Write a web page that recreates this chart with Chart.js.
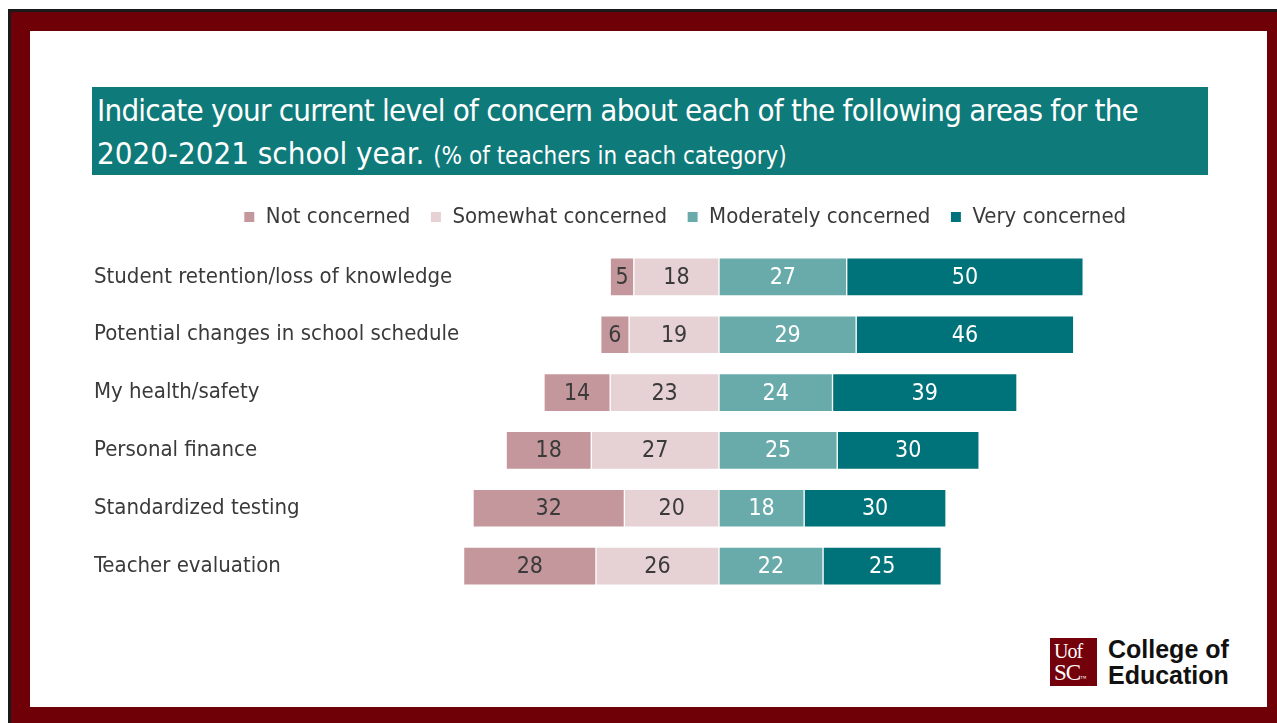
<!DOCTYPE html>
<html>
<head>
<meta charset="utf-8">
<script src="https://cdn.jsdelivr.net/npm/chart.js@4.4.0/dist/chart.umd.min.js"></script>
<style>
  html, body { margin: 0; padding: 0; width: 1277px; height: 723px; overflow: hidden; background: #fff; }
  .frame { position: absolute; left: 8px; top: 9px; width: 1269px; height: 714px; background: #700008;
           border-left: 3px solid #1a1a1a; border-top: 3px solid #1a1a1a; box-sizing: border-box; }
  .panel { position: absolute; left: 30px; top: 31px; width: 1237px; height: 676px; background: #fff; }
  .title { position: absolute; left: 92px; top: 87px; width: 1116px; height: 88px; background: #0f7a7a;
           color: #fff; font-family: "Liberation Sans Narrow", "DejaVu Sans Condensed", sans-serif;
           font-size: 31px; line-height: 43px; padding: 2px 0 0 5px; box-sizing: border-box; white-space: nowrap; }
  .title .first { letter-spacing: -0.75px; }
  .title small { font-size: 24px; }
  .chart-wrap { position: absolute; left: 84px; top: 186px; width: 1192px; height: 409px; }
  .logo { position: absolute; left: 1050px; top: 638px; width: 47px; height: 48px; background: #73000a;
          color: #fff; font-family: "Liberation Serif", serif; line-height: 21px; padding: 3px 0 0 4px; box-sizing: border-box; }
  .logo .u { font-size: 20px; letter-spacing: -1px; }
  .logo .sc { font-size: 23px; letter-spacing: -1px; }
  .college { position: absolute; left: 1108px; top: 636px; font-family: "Liberation Sans", Arial, sans-serif;
             font-weight: bold; font-size: 25px; line-height: 26px; color: #111; }
</style>
</head>
<body>
<div class="frame"></div>
<div class="panel"></div>
<div class="title"><span class="first">Indicate your current level of concern about each of the following areas for the</span><br>2020-2021 school year. <small>(% of teachers in each category)</small></div>
<div class="chart-wrap"><canvas id="concernChart"></canvas></div>
<div class="logo"><div class="u">Uof</div><div class="sc">SC<span style="font-size:6px">™</span></div></div>
<div class="college">College of<br>Education</div>

<script>
const FONT = '"Liberation Sans Narrow", "DejaVu Sans Condensed", sans-serif';

const categories = [
  "Student retention/loss of knowledge",
  "Potential changes in school schedule",
  "My health/safety",
  "Personal finance",
  "Standardized testing",
  "Teacher evaluation",
];
const notConcerned = [5, 6, 14, 18, 32, 28];
const somewhatConcerned = [18, 19, 23, 27, 20, 26];
const moderatelyConcerned = [27, 29, 24, 25, 18, 22];
const veryConcerned = [50, 46, 39, 30, 30, 25];
const legendOrder = ["Not concerned", "Somewhat concerned", "Moderately concerned", "Very concerned"];

// y axis is pinned to a fixed width so the zero line sits at the same spot
const Y_AXIS_WIDTH = 369;
const LABEL_SIZE = 22;

// measure the longest category so the labels start at the axis' left edge
const probe = document.createElement("canvas").getContext("2d");
probe.font = `normal ${LABEL_SIZE}px ${FONT}`;
const widest = Math.max(...categories.map((c) => probe.measureText(c).width));

// value written in the middle of every segment
const valueLabels = {
  id: "valueLabels",
  afterDatasetsDraw(chart) {
    const ctx = chart.ctx;
    ctx.save();
    ctx.font = `normal 23px ${FONT}`;
    ctx.textAlign = "center";
    ctx.textBaseline = "middle";
    chart.data.datasets.forEach((ds, i) => {
      chart.getDatasetMeta(i).data.forEach((bar, j) => {
        ctx.fillStyle = ds.labelColor;
        ctx.fillText(Math.abs(ds.data[j]), (bar.x + bar.base) / 2, bar.y + 1);
      });
    });
    ctx.restore();
  },
};

// extra room under the legend
const legendGap = {
  id: "legendGap",
  beforeInit(chart) {
    const fit = chart.legend.fit;
    chart.legend.fit = function () {
      fit.call(this);
      this.height += 10;
    };
  },
};

const barStyle = { borderColor: "#ffffff", borderWidth: 1, borderSkipped: false, barThickness: 38 };

new Chart(document.getElementById("concernChart"), {
  type: "bar",
  data: {
    labels: categories,
    datasets: [
      // negative side stacks outward from zero: somewhat first, then not
      { label: "Somewhat concerned", data: somewhatConcerned.map((v) => -v), backgroundColor: "#e6d1d4", labelColor: "#3a3a3a", ...barStyle },
      { label: "Not concerned", data: notConcerned.map((v) => -v), backgroundColor: "#c4979c", labelColor: "#3a3a3a", ...barStyle },
      { label: "Moderately concerned", data: moderatelyConcerned, backgroundColor: "#69abaa", labelColor: "#ffffff", ...barStyle },
      { label: "Very concerned", data: veryConcerned, backgroundColor: "#00737a", labelColor: "#ffffff", ...barStyle },
    ],
  },
  options: {
    indexAxis: "y",
    responsive: true,
    maintainAspectRatio: false,
    animation: false,
    layout: { padding: { left: 10, right: 0, top: 0, bottom: 0 } },
    scales: {
      x: { stacked: true, display: false, min: -54.12, max: 117.76 },
      y: {
        stacked: true,
        grid: { display: false, drawTicks: false },
        border: { display: false },
        ticks: {
          crossAlign: "far",
          padding: Y_AXIS_WIDTH - widest,
          color: "#3a3a3a",
          font: { family: FONT, size: LABEL_SIZE },
        },
        afterFit(scale) {
          scale.width = Y_AXIS_WIDTH;
          // rows fill the full height; no room reserved for half-labels
          scale.paddingTop = 0;
          scale.paddingBottom = 0;
        },
      },
    },
    plugins: {
      tooltip: { enabled: false },
      legend: {
        position: "top",
        labels: {
          boxWidth: 11,
          boxHeight: 11,
          padding: 20,
          color: "#3a3a3a",
          font: { family: FONT, size: 22 },
          sort: (a, b) => legendOrder.indexOf(a.text) - legendOrder.indexOf(b.text),
        },
      },
    },
  },
  plugins: [valueLabels, legendGap],
});
</script>
</body>
</html>
